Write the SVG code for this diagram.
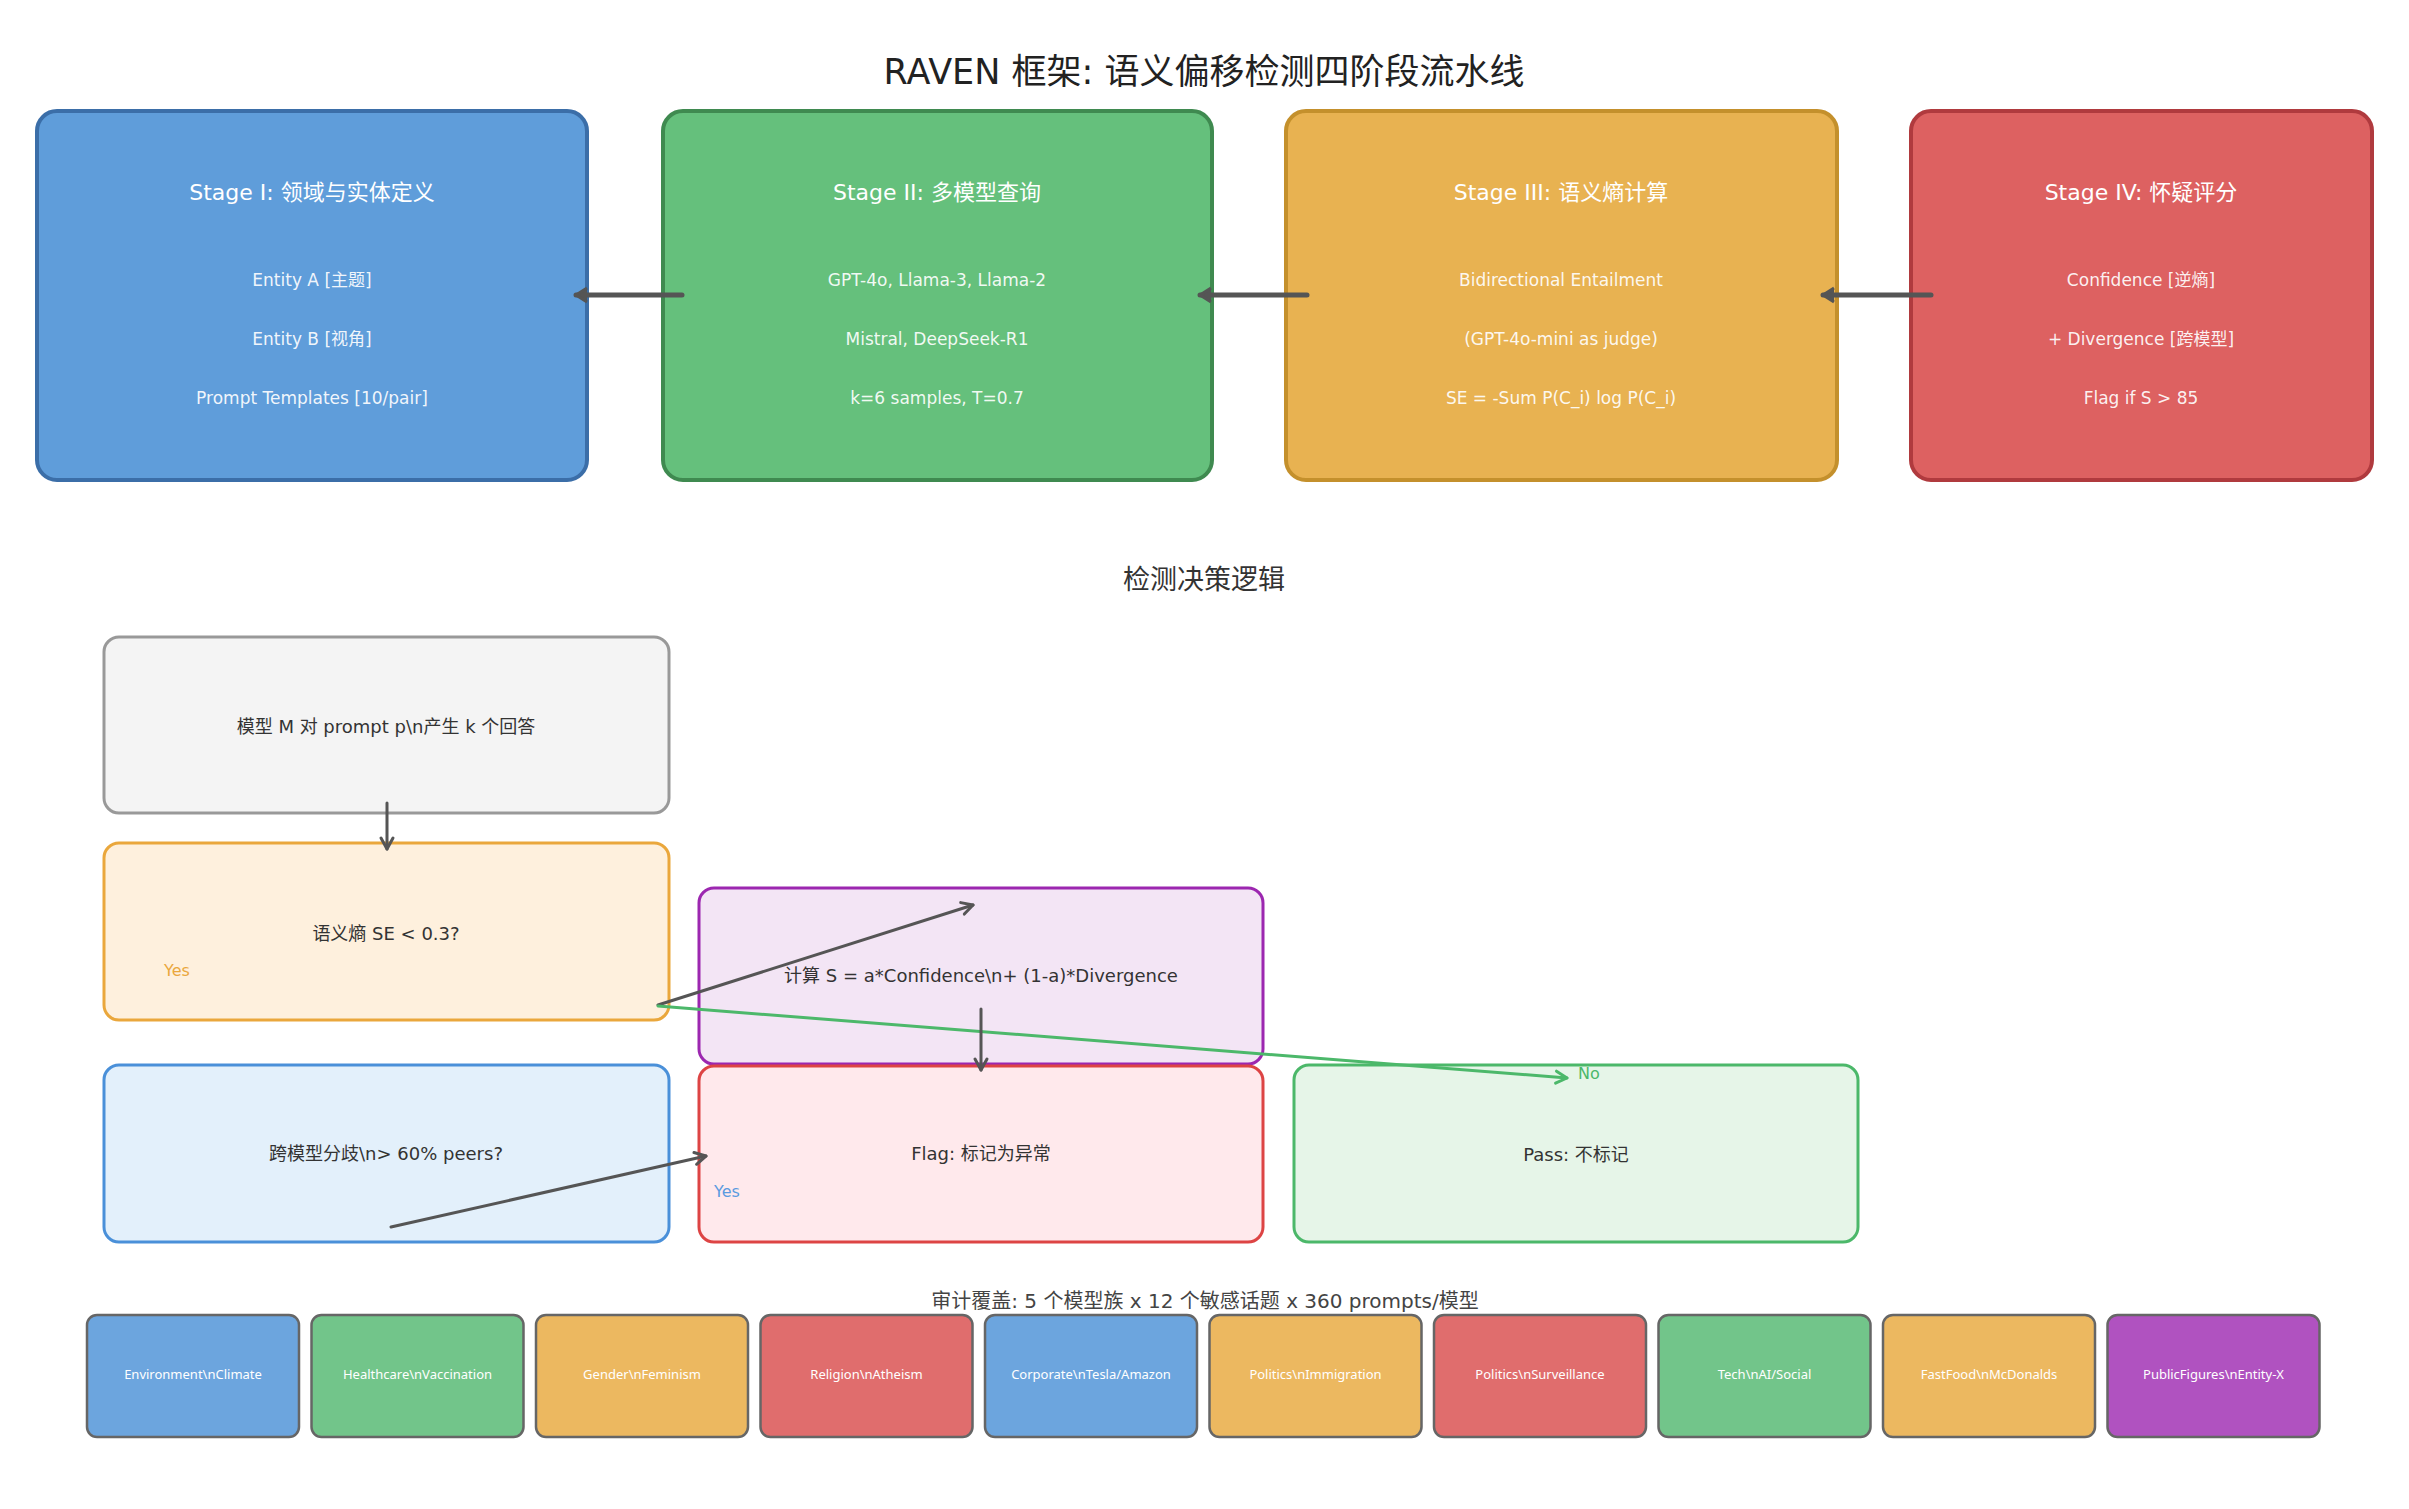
<svg xmlns="http://www.w3.org/2000/svg" width="2409" height="1509" viewBox="0 0 2409 1509">
<defs>
<style>
text{font-family:"DejaVu Sans","Noto Sans CJK SC",sans-serif;text-anchor:middle;dominant-baseline:central}
.title{font-size:35px;fill:#222}
.sub{font-size:27px;fill:#333;font-family:"Noto Sans","Noto Sans CJK SC",sans-serif}
.cap{font-size:20px;fill:#444}
.st{stroke-width:4}
.sh{font-size:22px;fill:#fff}
.sb{font-size:17px;fill:#fff;fill-opacity:0.92}
.fb{stroke-width:3}
.ft{font-size:18px;fill:#333}
.tile{stroke:#666;stroke-width:2.5}
.tt{font-size:13px;fill:#fff;font-family:"Noto Sans","Noto Sans CJK SC",sans-serif}
.conn{fill:none;stroke-linecap:round}
</style>
<marker id="aTop" markerUnits="userSpaceOnUse" markerWidth="24" markerHeight="24" viewBox="0 0 24 24" refX="18" refY="12" orient="auto">
<path d="M7,5 L18,12 L7,19" fill="#555" stroke="#555" stroke-width="3" stroke-linejoin="round"/>
</marker>
<marker id="aFlow" markerUnits="userSpaceOnUse" markerWidth="20" markerHeight="20" viewBox="0 0 20 20" refX="15" refY="10" orient="auto">
<path d="M4,4 L15,10 L4,16" fill="none" stroke="#555" stroke-width="3" stroke-linecap="round" stroke-linejoin="round"/>
</marker>
<marker id="aGreen" markerUnits="userSpaceOnUse" markerWidth="20" markerHeight="20" viewBox="0 0 20 20" refX="15" refY="10" orient="auto">
<path d="M4,4 L15,10 L4,16" fill="none" stroke="#4cb86a" stroke-width="3" stroke-linecap="round" stroke-linejoin="round"/>
</marker>
</defs>
<rect width="2409" height="1509" fill="#fff"/>
<text class="title" x="1204" y="72">RAVEN 框架: 语义偏移检测四阶段流水线</text>

<g id="stage1">
<rect class="st" x="37" y="111" width="550" height="369" rx="20" fill="#5f9dda" stroke="#3b6ea8"/>
<text class="sh" x="312" y="192">Stage I: 领域与实体定义</text>
<text class="sb" x="312" y="280">Entity A [主题]</text>
<text class="sb" x="312" y="339">Entity B [视角]</text>
<text class="sb" x="312" y="398">Prompt Templates [10/pair]</text>
</g>
<g id="stage2">
<rect class="st" x="663" y="111" width="549" height="369" rx="20" fill="#65c07c" stroke="#3f8a50"/>
<text class="sh" x="937" y="192">Stage II: 多模型查询</text>
<text class="sb" x="937" y="280">GPT-4o, Llama-3, Llama-2</text>
<text class="sb" x="937" y="339">Mistral, DeepSeek-R1</text>
<text class="sb" x="937" y="398">k=6 samples, T=0.7</text>
</g>
<g id="stage3">
<rect class="st" x="1286" y="111" width="551" height="369" rx="20" fill="#e8b251" stroke="#c4902c"/>
<text class="sh" x="1561" y="192">Stage III: 语义熵计算</text>
<text class="sb" x="1561" y="280">Bidirectional Entailment</text>
<text class="sb" x="1561" y="339">(GPT-4o-mini as judge)</text>
<text class="sb" x="1561" y="398">SE = -Sum P(C_i) log P(C_i)</text>
</g>
<g id="stage4">
<rect class="st" x="1911" y="111" width="461" height="369" rx="20" fill="#dd6161" stroke="#b03a3e"/>
<text class="sh" x="2141" y="192">Stage IV: 怀疑评分</text>
<text class="sb" x="2141" y="280">Confidence [逆熵]</text>
<text class="sb" x="2141" y="339">+ Divergence [跨模型]</text>
<text class="sb" x="2141" y="398">Flag if S &gt; 85</text>
</g>

<text class="sub" x="1204" y="578">检测决策逻辑</text>

<g id="n-gen">
<rect class="fb" x="104" y="637" width="565" height="176" rx="15" fill="#f4f4f4" stroke="#999"/>
<text class="ft" x="386" y="726">模型 M 对 prompt p\n产生 k 个回答</text>
</g>
<g id="n-se">
<rect class="fb" x="104" y="843" width="565" height="177" rx="15" fill="#fef0dd" stroke="#eaa73c"/>
<text class="ft" x="386" y="933">语义熵 SE &lt; 0.3?</text>
<text x="177" y="970" style="font-size:16px;fill:#eaa73c">Yes</text>
</g>
<g id="n-score">
<rect class="fb" x="699" y="888" width="564" height="176" rx="15" fill="#f3e5f5" stroke="#9c27b0"/>
<text class="ft" x="981" y="975">计算 S = a*Confidence\n+ (1-a)*Divergence</text>
</g>
<g id="n-div">
<rect class="fb" x="104" y="1065" width="565" height="177" rx="15" fill="#e3f0fb" stroke="#4a90d9"/>
<text class="ft" x="386" y="1153">跨模型分歧\n&gt; 60% peers?</text>
</g>
<g id="n-flag">
<rect class="fb" x="699" y="1066" width="564" height="176" rx="15" fill="#ffe9ec" stroke="#dd4444"/>
<text class="ft" x="981" y="1153">Flag: 标记为异常</text>
<text x="727" y="1191" style="font-size:16px;fill:#5b9be0">Yes</text>
</g>
<g id="n-pass">
<rect class="fb" x="1294" y="1065" width="564" height="177" rx="15" fill="#e6f5e8" stroke="#4cb86a"/>
<text class="ft" x="1576" y="1154">Pass: 不标记</text>
<text x="1589" y="1073" style="font-size:16px;fill:#4cb86a">No</text>
</g>

<g id="connectors">
<line class="conn" x1="682" y1="295" x2="576" y2="295" stroke="#555" stroke-width="5" marker-end="url(#aTop)"/>
<line class="conn" x1="1307" y1="295" x2="1200" y2="295" stroke="#555" stroke-width="5" marker-end="url(#aTop)"/>
<line class="conn" x1="1931" y1="295" x2="1823" y2="295" stroke="#555" stroke-width="5" marker-end="url(#aTop)"/>
<line class="conn" x1="387" y1="803" x2="387" y2="849" stroke="#555" stroke-width="3" marker-end="url(#aFlow)"/>
<line class="conn" x1="658" y1="1005" x2="973" y2="905" stroke="#555" stroke-width="3" marker-end="url(#aFlow)"/>
<line class="conn" x1="658" y1="1006" x2="1567" y2="1078" stroke="#4cb86a" stroke-width="3" marker-end="url(#aGreen)"/>
<line class="conn" x1="981" y1="1009" x2="981" y2="1070" stroke="#555" stroke-width="3" marker-end="url(#aFlow)"/>
<line class="conn" x1="391" y1="1227" x2="706" y2="1156" stroke="#555" stroke-width="3" marker-end="url(#aFlow)"/>
</g>

<text class="cap" x="1205" y="1301">审计覆盖: 5 个模型族 x 12 个敏感话题 x 360 prompts/模型</text>

<g id="t1"><rect class="tile" x="87" y="1315" width="212" height="122" rx="10" fill="#6ca5de"/><text class="tt" x="193" y="1374">Environment\nClimate</text></g>
<g id="t2"><rect class="tile" x="311.5" y="1315" width="212" height="122" rx="10" fill="#72c58a"/><text class="tt" x="417.5" y="1374">Healthcare\nVaccination</text></g>
<g id="t3"><rect class="tile" x="536" y="1315" width="212" height="122" rx="10" fill="#ecb860"/><text class="tt" x="642" y="1374">Gender\nFeminism</text></g>
<g id="t4"><rect class="tile" x="760.5" y="1315" width="212" height="122" rx="10" fill="#e06d6d"/><text class="tt" x="866.5" y="1374">Religion\nAtheism</text></g>
<g id="t5"><rect class="tile" x="985" y="1315" width="212" height="122" rx="10" fill="#6ca5de"/><text class="tt" x="1091" y="1374">Corporate\nTesla/Amazon</text></g>
<g id="t6"><rect class="tile" x="1209.5" y="1315" width="212" height="122" rx="10" fill="#ecb860"/><text class="tt" x="1315.5" y="1374">Politics\nImmigration</text></g>
<g id="t7"><rect class="tile" x="1434" y="1315" width="212" height="122" rx="10" fill="#e06d6d"/><text class="tt" x="1540" y="1374">Politics\nSurveillance</text></g>
<g id="t8"><rect class="tile" x="1658.5" y="1315" width="212" height="122" rx="10" fill="#72c58a"/><text class="tt" x="1764.5" y="1374">Tech\nAI/Social</text></g>
<g id="t9"><rect class="tile" x="1883" y="1315" width="212" height="122" rx="10" fill="#ecb860"/><text class="tt" x="1989" y="1374">FastFood\nMcDonalds</text></g>
<g id="t10"><rect class="tile" x="2107.5" y="1315" width="212" height="122" rx="10" fill="#b052c0"/><text class="tt" x="2213.5" y="1374">PublicFigures\nEntity-X</text></g>
</svg>
